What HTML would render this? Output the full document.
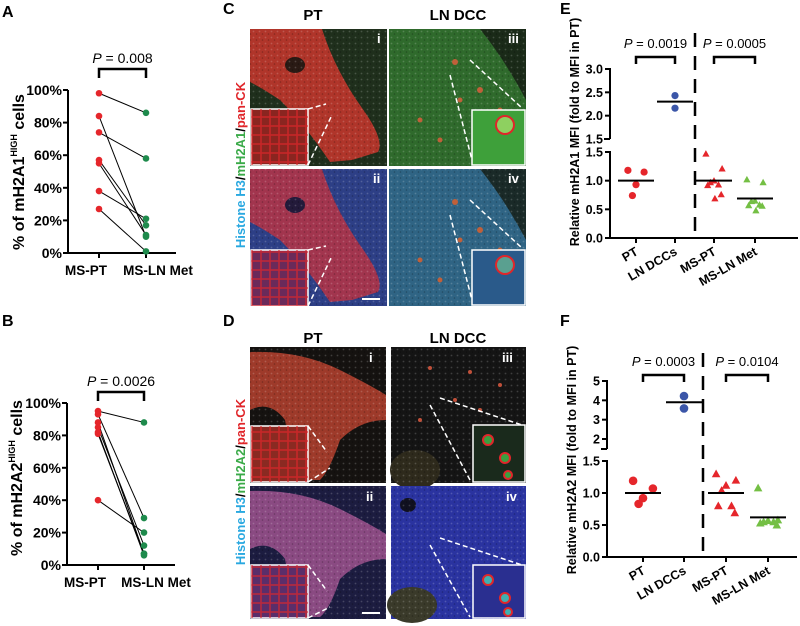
<!DOCTYPE html>
<html><head><meta charset="utf-8"><style>
html,body{margin:0;padding:0;background:#fff}
svg{display:block;font-family:"Liberation Sans",Arial,sans-serif}
</style></head><body>
<svg id="fig" width="800" height="626" viewBox="0 0 800 626" xmlns="http://www.w3.org/2000/svg">
<defs>
<pattern id="spk" width="6" height="6" patternUnits="userSpaceOnUse"><circle cx="1.5" cy="1.5" r="0.9" fill="#fff" opacity="0.18"/><circle cx="4.5" cy="4" r="0.8" fill="#000" opacity="0.25"/></pattern>
<pattern id="cells" width="9" height="9" patternUnits="userSpaceOnUse"><rect width="9" height="9" fill="none" stroke="#e0262a" stroke-width="1.6"/></pattern>
</defs>
<g font-weight="bold" font-size="16" fill="#000">
<text x="2" y="17">A</text>
<text x="2" y="326">B</text>
<text x="223" y="14">C</text>
<text x="223" y="326">D</text>
<text x="560" y="14">E</text>
<text x="560" y="326">F</text>
</g>

<g>
<text x="313" y="20" font-size="15" font-weight="bold" text-anchor="middle">PT</text>
<text x="458" y="20" font-size="15" font-weight="bold" text-anchor="middle">LN DCC</text>
<text transform="translate(245,165) rotate(-90)" font-size="13" font-weight="bold" text-anchor="middle"><tspan fill="#29a8e0">Histone H3</tspan><tspan fill="#000">/</tspan><tspan fill="#3aaa48">mH2A1</tspan><tspan fill="#000">/</tspan><tspan fill="#e0262a">pan-CK</tspan></text>
<g>
<rect x="250" y="29" width="137" height="137" fill="#1f2f1c"/>
<path d="M250 29 L322 29 Q335 70 362 108 Q385 140 378 152 L352 160 L330 162 Q305 125 280 100 Q262 88 250 82 Z" fill="#b0352a"/>
<ellipse cx="295" cy="65" rx="10" ry="8" fill="#2a1a14"/>
<rect x="250" y="29" width="137" height="137" fill="url(#spk)"/>
<rect x="251" y="109" width="57" height="56" fill="#8a2520" stroke="#fff" stroke-width="1.5"/>
<rect x="251" y="109" width="57" height="56" fill="url(#cells)" opacity="0.7"/>
<path d="M308 109 L326 104 M308 165 L332 115" stroke="#fff" stroke-width="1.5" stroke-dasharray="5,3"/>
<text x="377" y="43" fill="#fff" font-size="13" font-weight="bold">i</text>
</g>
<g>
<rect x="250" y="169" width="137" height="137" fill="#2d3f86"/>
<path d="M250 169 L322 169 Q335 210 362 248 Q385 280 378 292 L352 300 L330 302 Q305 265 280 240 Q262 228 250 222 Z" fill="#a2354e"/>
<ellipse cx="295" cy="205" rx="10" ry="8" fill="#231a3a"/>
<rect x="250" y="169" width="137" height="137" fill="url(#spk)"/>
<rect x="251" y="250" width="57" height="56" fill="#6a2a5a" stroke="#fff" stroke-width="1.5"/>
<rect x="251" y="250" width="57" height="56" fill="url(#cells)" opacity="0.7"/>
<path d="M308 250 L326 246 M308 306 L332 256" stroke="#fff" stroke-width="1.5" stroke-dasharray="5,3"/>
<line x1="362" y1="299" x2="380" y2="299" stroke="#fff" stroke-width="2"/>
<text x="373" y="183" fill="#fff" font-size="13" font-weight="bold">ii</text>
</g>
<g>
<rect x="389" y="29" width="137" height="137" fill="#2f6a2c"/>
<path d="M480 29 L526 29 L526 100 Q505 60 480 29Z" fill="#1a2a18"/>
<rect x="389" y="29" width="137" height="137" fill="url(#spk)"/>
<g fill="#c0603a"><circle cx="455" cy="62" r="3"/><circle cx="420" cy="120" r="2.5"/><circle cx="480" cy="90" r="3"/><circle cx="500" cy="110" r="2.5"/><circle cx="440" cy="140" r="2.5"/><circle cx="460" cy="100" r="2.5"/></g>
<rect x="472" y="110" width="53" height="55" fill="#3ea03a" stroke="#fff" stroke-width="1.5"/>
<circle cx="505" cy="125" r="9" fill="#8ed060" stroke="#e0262a" stroke-width="2"/>
<path d="M450 75 L472 160 M470 60 L522 108" stroke="#fff" stroke-width="1.5" stroke-dasharray="5,3"/>
<text x="508" y="43" fill="#fff" font-size="13" font-weight="bold">iii</text>
</g>
<g>
<rect x="389" y="169" width="137" height="137" fill="#2f6484"/>
<path d="M480 169 L526 169 L526 240 Q505 200 480 169Z" fill="#1a2a28"/>
<rect x="389" y="169" width="137" height="137" fill="url(#spk)"/>
<g fill="#c0603a"><circle cx="455" cy="202" r="3"/><circle cx="420" cy="260" r="2.5"/><circle cx="480" cy="230" r="3"/><circle cx="500" cy="250" r="2.5"/><circle cx="440" cy="280" r="2.5"/><circle cx="460" cy="240" r="2.5"/></g>
<rect x="472" y="250" width="53" height="55" fill="#2a5a8a" stroke="#fff" stroke-width="1.5"/>
<circle cx="505" cy="265" r="9" fill="#5aa090" stroke="#e0262a" stroke-width="2"/>
<path d="M450 215 L472 300 M470 200 L522 248" stroke="#fff" stroke-width="1.5" stroke-dasharray="5,3"/>
<text x="508" y="183" fill="#fff" font-size="13" font-weight="bold">iv</text>
</g>
</g>

<g>
<text x="313" y="343" font-size="15" font-weight="bold" text-anchor="middle">PT</text>
<text x="458" y="343" font-size="15" font-weight="bold" text-anchor="middle">LN DCC</text>
<text transform="translate(245,482) rotate(-90)" font-size="13" font-weight="bold" text-anchor="middle"><tspan fill="#29a8e0">Histone H3</tspan><tspan fill="#000">/</tspan><tspan fill="#3aaa48">mH2A2</tspan><tspan fill="#000">/</tspan><tspan fill="#e0262a">pan-CK</tspan></text>
<g>
<rect x="250" y="347" width="136" height="136" fill="#151210"/>
<path d="M250 352 Q300 350 340 370 Q370 385 386 395 L386 420 Q360 420 340 440 Q330 470 320 480 L300 480 Q290 450 285 420 Q270 400 250 410 Z" fill="#9e3a2a"/>
<rect x="250" y="347" width="136" height="136" fill="url(#spk)"/>
<rect x="251" y="426" width="57" height="56" fill="#8a2a22" stroke="#fff" stroke-width="1.5"/>
<rect x="251" y="426" width="57" height="56" fill="url(#cells)" opacity="0.7"/>
<path d="M308 426 L327 452 M308 482 L330 468" stroke="#fff" stroke-width="1.5" stroke-dasharray="5,3"/>
<text x="369" y="362" fill="#fff" font-size="13" font-weight="bold">i</text>
</g>
<g>
<rect x="250" y="486" width="136" height="133" fill="#1c1c40"/>
<path d="M250 491 Q300 489 340 509 Q370 524 386 534 L386 559 Q360 559 340 579 Q330 609 320 617 L300 617 Q290 589 285 559 Q270 539 250 549 Z" fill="#8a4a82"/>
<rect x="250" y="486" width="136" height="133" fill="url(#spk)"/>
<rect x="251" y="565" width="57" height="53" fill="#5a2e6a" stroke="#fff" stroke-width="1.5"/>
<rect x="251" y="565" width="57" height="53" fill="url(#cells)" opacity="0.7"/>
<path d="M308 565 L327 591 M308 618 L330 607" stroke="#fff" stroke-width="1.5" stroke-dasharray="5,3"/>
<line x1="362" y1="613" x2="380" y2="613" stroke="#fff" stroke-width="2"/>
<text x="366" y="501" fill="#fff" font-size="13" font-weight="bold">ii</text>
</g>
<g>
<rect x="391" y="347" width="135" height="136" fill="#141414"/>
<ellipse cx="415" cy="470" rx="25" ry="20" fill="#2e2a1c"/>
<rect x="391" y="347" width="135" height="136" fill="url(#spk)"/>
<g fill="#c0503a"><circle cx="430" cy="368" r="2"/><circle cx="470" cy="372" r="2"/><circle cx="500" cy="385" r="2"/><circle cx="455" cy="400" r="2"/><circle cx="420" cy="420" r="2"/><circle cx="480" cy="410" r="2"/></g>
<rect x="473" y="425" width="52" height="57" fill="#1a2a1c" stroke="#fff" stroke-width="1.5"/>
<circle cx="488" cy="440" r="5" fill="#3aa040" stroke="#e0262a" stroke-width="2"/><circle cx="505" cy="458" r="5" fill="#3aa040" stroke="#e0262a" stroke-width="2"/><circle cx="508" cy="475" r="4" fill="#3aa040" stroke="#e0262a" stroke-width="2"/>
<path d="M430 405 L470 480 M440 398 L522 425" stroke="#fff" stroke-width="1.5" stroke-dasharray="5,3"/>
<text x="502" y="362" fill="#fff" font-size="13" font-weight="bold">iii</text>
</g>
<g>
<rect x="391" y="486" width="135" height="133" fill="#2a33a0"/>
<ellipse cx="412" cy="605" rx="25" ry="18" fill="#3a3a2a"/>
<ellipse cx="408" cy="505" rx="8" ry="7" fill="#101020"/>
<rect x="391" y="486" width="135" height="133" fill="url(#spk)"/>
<rect x="473" y="565" width="52" height="53" fill="#2a2f90" stroke="#fff" stroke-width="1.5"/>
<circle cx="488" cy="580" r="5" fill="#40b0b0" stroke="#e0262a" stroke-width="2"/><circle cx="505" cy="598" r="5" fill="#40b0b0" stroke="#e0262a" stroke-width="2"/><circle cx="508" cy="612" r="4" fill="#40b0b0" stroke="#e0262a" stroke-width="2"/>
<path d="M430 545 L470 617 M440 538 L522 565" stroke="#fff" stroke-width="1.5" stroke-dasharray="5,3"/>
<text x="506" y="501" fill="#fff" font-size="13" font-weight="bold">iv</text>
</g>
</g>

<g id="charts"></g>
</svg>
<script>
// Panel A data
const aCategories = ["MS-PT", "MS-LN Met"];
const aPT = [98, 84, 74, 57, 55, 38, 27];
const aLN = [86, 10, 58, 17, 11, 21, 1];
const aTicks = [0, 20, 40, 60, 80, 100];
// Panel B data
const bCategories = ["MS-PT", "MS-LN Met"];
const bPT = [95, 93, 88, 85, 82, 81, 40];
const bLN = [88, 29, 7, 12, 6, 7, 20];
const bTicks = [0, 20, 40, 60, 80, 100];
// Panel E data
const eCategories = ["PT", "LN DCCs", "MS-PT", "MS-LN Met"];
const ePT = [1.18, 1.15, 0.93, 0.74];
const eLN = [2.43, 2.16];
const eMSPT = [1.47, 1.21, 1.0, 0.97, 0.93, 0.92, 0.76, 0.69];
const eMSLN = [1.02, 0.97, 0.65, 0.64, 0.58, 0.57, 0.56, 0.48];
const eMeans = [1.0, 2.3, 1.0, 0.69];
const eUpperTicks = [1.5, 2.0, 2.5, 3.0];
const eLowerTicks = [0.0, 0.5, 1.0, 1.5];
// Panel F data
const fCategories = ["PT", "LN DCCs", "MS-PT", "MS-LN Met"];
const fPT = [1.19, 1.07, 0.92, 0.83];
const fLN = [4.22, 3.58];
const fMSPT = [1.3, 1.2, 1.12, 1.04, 0.8, 0.8, 0.69];
const fMSLN = [1.08, 0.58, 0.57, 0.55, 0.55, 0.53, 0.5];
const fMeans = [1.0, 3.9, 1.0, 0.62];
const fUpperTicks = [2, 3, 4, 5];
const fLowerTicks = [0.0, 0.5, 1.0, 1.5];

const NS = "http://www.w3.org/2000/svg";
const root = document.getElementById("charts");
function mk(tag, attrs, parent, text) {
  const e = document.createElementNS(NS, tag);
  for (const k in attrs) e.setAttribute(k, attrs[k]);
  if (text !== undefined) e.textContent = text;
  (parent || root).appendChild(e);
  return e;
}
function lin(d0, d1, r0, r1) { return v => r0 + (v - d0) * (r1 - r0) / (d1 - d0); }

const RED = "#e5262b", GREEN = "#1e8a4c", BLUE = "#3b56a8", LGREEN = "#74bf44";

function pairedChart(opts) {
  const g = mk("g", {});
  
  
  const y = lin(0, 100, opts.y0, opts.y100);
  const xs = [opts.x1, opts.x2];
  const ya = mk("line", {x1: opts.ax, y1: opts.y100, x2: opts.ax, y2: opts.y0 + 1, stroke: "#000", "stroke-width": 2}, g);
  
  
  const xa = mk("line", {x1: opts.ax - 1, y1: opts.y0, x2: opts.axEnd, y2: opts.y0, stroke: "#000", "stroke-width": 2}, g);
  
  
  opts.ticks.forEach(t => {
    mk("line", {x1: opts.ax - 5, y1: y(t), x2: opts.ax, y2: y(t), stroke: "#000", "stroke-width": 2}, g);
    const tl = mk("text", {x: opts.ax - 6, y: y(t) + 5, "text-anchor": "end", "font-size": 14, "font-weight": "bold"}, g, t + "%");
    
    
  });
  const labelOffsets = [-13, 12];
  opts.cats.forEach((c, i) => {
    mk("line", {x1: xs[i], y1: opts.y0, x2: xs[i], y2: opts.y0 + 5, stroke: "#000", "stroke-width": 2}, g);
    const cl = mk("text", {x: xs[i] + labelOffsets[i], y: opts.y0 + 22, "text-anchor": "middle", "font-size": 13.5, "font-weight": "bold"}, g, c);
    
    
  });
  opts.pt.forEach((v, i) => {
    const l = mk("line", {x1: xs[0], y1: y(v), x2: xs[1], y2: y(opts.ln[i]), stroke: "#000", "stroke-width": 1}, g);
    
    
  });
  opts.pt.forEach(v => {
    const p = mk("circle", {cx: xs[0], cy: y(v), r: 3.3, fill: RED}, g);
    
    
  });
  opts.ln.forEach(v => {
    const p = mk("circle", {cx: xs[1], cy: y(v), r: 3.3, fill: GREEN}, g);
    
    
  });
  mk("path", {d: `M${xs[0]} ${opts.by + 9} V${opts.by} H${xs[1]} V${opts.by + 9}`, fill: "none", stroke: "#000", "stroke-width": 2.5}, g);
  const pt = mk("text", {x: (xs[0] + xs[1]) / 2, y: opts.by - 6, "text-anchor": "middle", "font-size": 14}, g);
  
  
  mk("tspan", {"font-style": "italic"}, pt, "P");
  mk("tspan", {}, pt, " = " + opts.p);
  const yt = mk("text", {transform: `translate(${opts.tx},${opts.tyc}) rotate(-90)`, "text-anchor": "middle", "font-size": 16, "font-weight": "bold"}, g);
  
  
  mk("tspan", {}, yt, "% of " + opts.prot);
  mk("tspan", {"font-size": 9, dy: -7}, yt, "HIGH");
  mk("tspan", {dy: 7}, yt, " cells");
}

pairedChart({name: "panel-a-chart", cats: aCategories, pt: aPT, ln: aLN, ticks: aTicks, ax: 68, axEnd: 176, y0: 253, y100: 90, x1: 99, x2: 146, by: 69, p: "0.008", prot: "mH2A1", tx: 24, tyc: 172});
pairedChart({name: "panel-b-chart", cats: bCategories, pt: bPT, ln: bLN, ticks: bTicks, ax: 67, axEnd: 175, y0: 565, y100: 403, x1: 98, x2: 144, by: 392, p: "0.0026", prot: "mH2A2", tx: 22, tyc: 478});

function triangle(cx, cy, s, fill, g) {
  return mk("path", {d: `M${cx} ${cy - s} L${cx + s} ${cy + s * 0.8} L${cx - s} ${cy + s * 0.8} Z`, fill: fill}, g);
}

function brokenChart(o) {
  const g = mk("g", {});
  
  
  const yU = lin(o.uLo, o.uHi, o.uLoY, o.uHiY);
  const yL = lin(0, o.lHi, o.lZeroY, o.lHiY);
  const yv = v => v > o.lHi ? yU(v) : yL(v);
  const ua = mk("line", {x1: o.ax, y1: o.uHiY - 1, x2: o.ax, y2: o.uBottom, stroke: "#000", "stroke-width": 2}, g);
  
  
  const la = mk("line", {x1: o.ax, y1: o.lHiY - 1, x2: o.ax, y2: o.lZeroY + 1, stroke: "#000", "stroke-width": 2}, g);
  
  
  mk("line", {x1: o.ax - 6, y1: o.uBottom, x2: o.ax, y2: o.uBottom, stroke: "#000", "stroke-width": 2}, g);
  const xa = mk("line", {x1: o.ax - 1, y1: o.lZeroY, x2: o.axEnd, y2: o.lZeroY, stroke: "#000", "stroke-width": 2}, g);
  
  
  o.uTicks.forEach(t => {
    mk("line", {x1: o.ax - 5, y1: yU(t), x2: o.ax, y2: yU(t), stroke: "#000", "stroke-width": 2}, g);
    const tl = mk("text", {x: o.ax - 7, y: yU(t) + 4.5, "text-anchor": "end", "font-size": 12.5, "font-weight": "bold"}, g, o.fmtU(t));
    
    
  });
  o.lTicks.forEach(t => {
    mk("line", {x1: o.ax - 5, y1: yL(t), x2: o.ax, y2: yL(t), stroke: "#000", "stroke-width": 2}, g);
    const tl = mk("text", {x: o.ax - 7, y: yL(t) + 4.5, "text-anchor": "end", "font-size": 12.5, "font-weight": "bold"}, g, t.toFixed(1));
    
    
  });
  o.cats.forEach((c, i) => {
    const x = o.xs[i];
    mk("line", {x1: x, y1: o.lZeroY, x2: x, y2: o.lZeroY + 5, stroke: "#000", "stroke-width": 2}, g);
    const cl = mk("text", {transform: `translate(${x + 3},${o.lZeroY + 16}) rotate(-30)`, "text-anchor": "end", "font-size": 12.5, "font-weight": "bold"}, g, c);
    
    
  });
  const dv = mk("line", {x1: o.divX, y1: o.divTop, x2: o.divX, y2: o.lZeroY, stroke: "#000", "stroke-width": 2.5, "stroke-dasharray": "14,9"}, g);
  
  
  const jit = [-9, 9, 0, -4, 5, -7, 8, 1];
  const series = [[o.s0, RED, "c"], [o.s1, BLUE, "c"], [o.s2, RED, "t"], [o.s3, LGREEN, "t"]];
  series.forEach((s, i) => {
    s[0].forEach((v, j) => {
      const cx = o.xs[i] + (s[0].length > 2 ? jit[j % jit.length] * o.jw : 0);
      let p;
      if (s[2] === "c") p = mk("circle", {cx: cx, cy: yv(v), r: o.r, fill: s[1]}, g);
      else p = triangle(cx, yv(v), o.r, s[1], g);
      
      
    });
    const m = mk("line", {x1: o.xs[i] - 18, y1: yv(o.means[i]), x2: o.xs[i] + 18, y2: yv(o.means[i]), stroke: "#000", "stroke-width": 2}, g);
    
    
  });
  [[0, 1, o.p1], [2, 3, o.p2]].forEach(b => {
    const x0 = o.xs[b[0]], x1 = o.xs[b[1]];
    mk("path", {d: `M${x0} ${o.by + 7} V${o.by} H${x1} V${o.by + 7}`, fill: "none", stroke: "#000", "stroke-width": 2.5}, g);
    const pt = mk("text", {x: (x0 + x1) / 2, y: o.by - 9, "text-anchor": "middle", "font-size": 13}, g);
    
    
    mk("tspan", {"font-style": "italic"}, pt, "P");
    mk("tspan", {}, pt, " = " + b[2]);
  });
  const yt = mk("text", {transform: `translate(${o.tx},${o.tyc}) rotate(-90)`, "text-anchor": "middle", "font-size": 12.5, "font-weight": "bold"}, g, o.title);
  
  
}

brokenChart({name: "panel-e-chart", cats: eCategories, s0: ePT, s1: eLN, s2: eMSPT, s3: eMSLN, means: eMeans,
  uTicks: eUpperTicks, lTicks: eLowerTicks, uLo: 1.5, uHi: 3.0, uLoY: 139, uHiY: 69, uBottom: 139, lHi: 1.5, lHiY: 152, lZeroY: 238,
  ax: 610, axEnd: 798, xs: [636, 675, 714, 755], divX: 695, divTop: 33, by: 57, p1: "0.0019", p2: "0.0005",
  fmtU: t => t.toFixed(1), r: 3.6, jw: 0.9, title: "Relative mH2A1 MFI (fold to MFI in PT)", tx: 579, tyc: 132});
brokenChart({name: "panel-f-chart", cats: fCategories, s0: fPT, s1: fLN, s2: fMSPT, s3: fMSLN, means: fMeans,
  uTicks: fUpperTicks, lTicks: fLowerTicks, uLo: 2, uHi: 5, uLoY: 439, uHiY: 381, uBottom: 449, lHi: 1.5, lHiY: 461, lZeroY: 557,
  ax: 607, axEnd: 797, xs: [643, 684, 726, 768], divX: 703, divTop: 353, by: 375, p1: "0.0003", p2: "0.0104",
  fmtU: t => String(t), r: 4.3, jw: 1.1, title: "Relative mH2A2 MFI (fold to MFI in PT)", tx: 576, tyc: 460});
</script>
</body></html>
